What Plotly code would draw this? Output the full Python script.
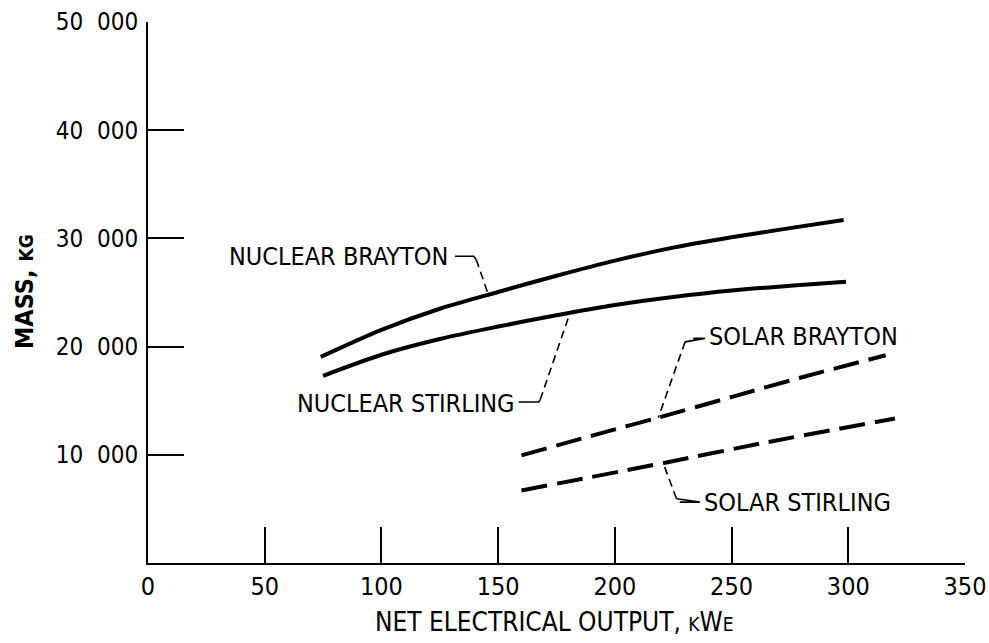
import numpy as np
import plotly.graph_objects as go

# ---- data ----
nb_x = [74, 100, 125, 150, 175, 200, 225, 250, 275, 298]
nb_y = [19050, 21550, 23500, 25050, 26550, 27950, 29150, 30100, 30950, 31710]

ns_x = [75, 100, 125, 150, 175, 200, 225, 250, 275, 299]
ns_y = [17300, 19250, 20700, 21850, 22900, 23850, 24580, 25180, 25620, 26000]

sb_x = [160, 195, 218, 251, 279, 316]
sb_y = [9950, 12050, 13400, 15400, 17100, 19200]

ss_x = [160, 221, 265, 320]
ss_y = [6700, 9250, 11150, 13350]

x_ticks = [0, 50, 100, 150, 200, 250, 300, 350]
y_ticks = [10000, 20000, 30000, 40000, 50000]
y_tick_text = ["10\u00a0\u00a0000", "20\u00a0\u00a0000", "30\u00a0\u00a0000",
               "40\u00a0\u00a0000", "50\u00a0\u00a0000"]

labels = ["NUCLEAR BRAYTON", "NUCLEAR STIRLING", "SOLAR BRAYTON", "SOLAR STIRLING"]
label_x = [129.5, 158.0, 239.4, 237.2]
label_y = [28300, 14750, 20900, 5630]
label_anchor = ["right", "right", "left", "left"]

# leader geometry: short solid stub, then dashed line to a point on the curve
stub_x0 = [131.5, 158.8, 233.6, 227.8]
stub_x1 = [139.5, 167.4, 238.6, 236.4]
stub_y = [28350, 14880, 20760, 5630]
dash_start_x = [140.6, 168.0, 230.1, 226.4]
dash_start_y = [28050, 15080, 20440, 5940]
target_x = [145.8, 180.8, 218.6, 220.7]

FONT = "DejaVu Sans Condensed, DejaVu Sans"
fig = go.Figure()

series = [(nb_x, nb_y, "solid"), (ns_x, ns_y, "solid"),
          (sb_x, sb_y, "26px,10px"), (ss_x, ss_y, "26px,10px")]
for sx, sy, dash in series:
    fig.add_trace(go.Scatter(x=sx, y=sy, mode="lines",
                             line=dict(color="black", width=4, dash=dash,
                                       shape="spline", smoothing=0.8),
                             showlegend=False, hoverinfo="skip"))

curves = [(nb_x, nb_y), (ns_x, ns_y), (sb_x, sb_y), (ss_x, ss_y)]
for i, (cx, cy) in enumerate(curves):
    ty = float(np.interp(target_x[i], cx, cy))
    fig.add_trace(go.Scatter(x=[stub_x0[i], stub_x1[i], dash_start_x[i]],
                             y=[stub_y[i], stub_y[i], dash_start_y[i]],
                             mode="lines", line=dict(color="black", width=1.6),
                             showlegend=False, hoverinfo="skip"))
    fig.add_trace(go.Scatter(x=[dash_start_x[i], target_x[i]],
                             y=[dash_start_y[i], ty],
                             mode="lines", line=dict(color="black", width=1.6, dash="8px,5px"),
                             showlegend=False, hoverinfo="skip"))
    fig.add_annotation(x=label_x[i], y=label_y[i], text=labels[i], showarrow=False,
                       xanchor=label_anchor[i], yanchor="middle",
                       font=dict(family=FONT, size=25, color="black"))

fig.add_annotation(xref="paper", yref="paper", x=0.497, y=-0.109,
                   text="NET ELECTRICAL OUTPUT, <span style='font-size:19px'>K</span>W<span style='font-size:19px'>E</span>",
                   showarrow=False, xanchor="center", yanchor="middle",
                   font=dict(family=FONT, size=26, color="black"))
fig.add_annotation(xref="paper", yref="paper", x=-0.151, y=0.502,
                   text="<b>MASS, <span style='font-size:19px'>KG</span></b>",
                   showarrow=False, textangle=-90, xanchor="center", yanchor="middle",
                   font=dict(family=FONT, size=25, color="black"))

fig.update_xaxes(range=[0, 350], tickvals=x_ticks, ticks="inside", ticklen=36, tickwidth=2,
                 tickcolor="black", showline=True, linewidth=2, linecolor="black",
                 showgrid=False, zeroline=False, automargin=False,
                 ticklabeloverflow="allow",
                 tickfont=dict(family=FONT, size=25, color="black"))
fig.update_yaxes(range=[0, 50000], tickvals=y_ticks, ticktext=y_tick_text, ticks="inside",
                 ticklen=36, tickwidth=2, tickcolor="black", showline=True, linewidth=2,
                 linecolor="black", showgrid=False, zeroline=False, automargin=False,
                 ticklabelstandoff=3,
                 tickfont=dict(family=FONT, size=24, color="black"))
fig.update_layout(width=989, height=643, margin=dict(l=148, r=24, t=22, b=80),
                  plot_bgcolor="white", paper_bgcolor="white", showlegend=False)

fig.write_html("out.html", config={"displayModeBar": False},
               post_script="document.body.style.margin='0';"
                           "document.documentElement.style.overflow='hidden';")
